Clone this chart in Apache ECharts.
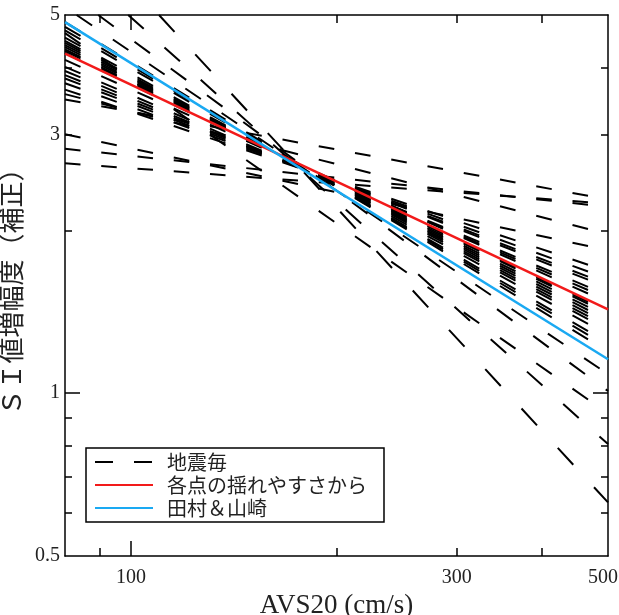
<!DOCTYPE html>
<html><head><meta charset="utf-8">
<script src="https://cdn.jsdelivr.net/npm/echarts@6/dist/echarts.min.js"></script>
<style>html,body{margin:0;padding:0;background:#fff}#c{width:619px;height:615px}</style>
</head><body><div id="c"></div>
<script>
// ---- data ----
const xStart = 80, xEnd = 500;
const yMin = 0.5, yMax = 5;
// value of each earthquake line at AVS20 = 80 and at AVS20 = 500
const quakeLeft  = [4.85, 4.755, 4.683, 4.54, 4.48, 4.44, 4.40, 4.36, 4.32, 4.29, 4.25, 4.13, 4.01, 3.94, 3.87, 3.815, 3.74, 3.64, 3.57, 3.49, 3.01, 2.83, 2.66, 4.63, 5.17, 5.55, 6.36, 7.72];
const quakeRight = [1.194, 1.219, 1.240, 1.282, 1.309, 1.327, 1.346, 1.365, 1.384, 1.404, 1.417, 1.471, 1.496, 1.518, 1.568, 1.590, 1.628, 1.679, 1.967, 2.28, 1.837, 2.21, 2.24, 0.917, 1.084, 1.009, 0.805, 0.628];
const redLine  = [4.24, 1.429];
const blueLine = [4.85, 1.155];
const xTicksMinor = [90, 200, 300, 400];
const xTicksMajor = [100];
const xLabels = [100, 300, 500];
const yTicksMinor = [0.6, 0.7, 0.8, 0.9, 2, 3, 4];
const yTicksMajor = [1];
const yLabels = [0.5, 1, 3, 5];
const seriesNames = ['地震毎', '各点の揺れやすさから', '田村＆山崎'];
const xTitle = 'AVS20 (cm/s)';
const yTitle = 'ＳＩ値増幅度（補正）';

// ---- chart ----
const chart = echarts.init(document.getElementById('c'), null, {renderer: 'canvas'});
const serif = 'Liberation Serif, Times New Roman, serif';
const lab = {fontFamily: serif, fontSize: 20, color: '#222'};
const fmt = v => String(+(+v).toPrecision(4));

function xAx(pos, ticks, len, showLine, labels, name) {
  const a = {
    type: 'log', logBase: 10, min: xStart, max: xEnd, position: pos, gridIndex: 0,
    axisLine: {show: showLine, onZero: false, lineStyle: {color: '#000', width: 1.5}},
    axisTick: {show: true, inside: true, length: len, customValues: ticks, lineStyle: {color: '#000', width: 1.5}},
    axisLabel: labels ? Object.assign({show: true, customValues: labels, margin: 12,
      formatter: v => (+v === xEnd ? '{r|' + fmt(v) + '}' : fmt(v)),
      rich: {r: {fontFamily: serif, fontSize: 20, color: '#222', padding: [0, 10, 0, 0]}}}, lab) : {show: false},
    splitLine: {show: false}, minorTick: {show: false}
  };
  if (name) {
    a.name = name; a.nameLocation = 'middle'; a.nameGap = 28;
    a.nameTextStyle = {fontFamily: serif, fontSize: 27, color: '#222'};
  }
  return a;
}
function yAx(pos, ticks, len, showLine, labels, name) {
  const a = {
    type: 'log', logBase: 10, min: yMin, max: yMax, position: pos, gridIndex: 0,
    axisLine: {show: showLine, onZero: false, lineStyle: {color: '#000', width: 1.5}},
    axisTick: {show: true, inside: true, length: len, customValues: ticks, lineStyle: {color: '#000', width: 1.5}},
    axisLabel: labels ? Object.assign({show: true, customValues: labels, margin: 5, formatter: fmt}, lab) : {show: false},
    splitLine: {show: false}, minorTick: {show: false}
  };
  if (name) {
    a.name = name; a.nameLocation = 'middle'; a.nameGap = 25; a.nameRotate = 90;
    a.nameTextStyle = {fontFamily: 'Noto Sans CJK JP', fontSize: 26, color: '#222'};
  }
  return a;
}

// each earthquake line is drawn from where it enters the frame (as the original plotter did)
function quakeData(l, r) {
  if (l > yMax) {
    const t = Math.log(yMax / l) / Math.log(r / l);
    const xs = xStart * Math.pow(xEnd / xStart, t);
    return [[xs, yMax], [xEnd, r]];
  }
  return [[xStart, l], [xEnd, r]];
}

const DASH = 15.5, GAP = 20.75;
const series = quakeLeft.map((l, i) => ({
  name: seriesNames[0], type: 'line', xAxisIndex: 0, yAxisIndex: 0,
  data: quakeData(l, quakeRight[i]),
  symbol: 'none', silent: true, z: 2,
  itemStyle: {color: '#000'},
  lineStyle: {color: '#000', width: 2, type: [DASH, GAP], cap: 'butt'}
}));
series.push({
  name: seriesNames[1], type: 'line', data: [[xStart, redLine[0]], [xEnd, redLine[1]]],
  symbol: 'none', silent: true, z: 3, itemStyle: {color: '#f21a1a'},
  lineStyle: {color: '#f21a1a', width: 2.5}
});
series.push({
  name: seriesNames[2], type: 'line', data: [[xStart, blueLine[0]], [xEnd, blueLine[1]]],
  symbol: 'none', silent: true, z: 4, itemStyle: {color: '#1aa9f2'},
  lineStyle: {color: '#1aa9f2', width: 2.5}
});

const option = {
  animation: false,
  backgroundColor: '#fff',
  grid: {left: 65, top: 15, right: 11, bottom: 59, containLabel: false, outerBoundsMode: 'none'},
  xAxis: [
    xAx('bottom', xTicksMinor, 8, true, xLabels, xTitle),
    xAx('bottom', xTicksMajor, 15, false, null),
    xAx('top', xTicksMinor, 8, true, null),
    xAx('top', xTicksMajor, 15, false, null)
  ],
  yAxis: [
    yAx('left', yTicksMinor, 7, true, yLabels, yTitle),
    yAx('left', yTicksMajor, 15, false, null),
    yAx('right', yTicksMinor, 7, true, null),
    yAx('right', yTicksMajor, 15, false, null)
  ],
  legend: {
    orient: 'vertical', left: 86, top: 448, z: 10,
    data: [{name: seriesNames[0], lineStyle: {type: [18, 21], width: 2}}, seriesNames[1], seriesNames[2]],
    itemWidth: 58, itemHeight: 14, itemGap: 3,
    itemStyle: {opacity: 0, borderWidth: 0},
    padding: [4, 17, 4, 8], borderColor: '#000', borderWidth: 1.5, backgroundColor: '#fff',
    selectedMode: false,
    textStyle: {fontFamily: 'Noto Sans CJK JP', fontSize: 20, color: '#222', padding: [0, 0, 0, 9]}
  },
  series: series
};
chart.setOption(option);

// dashes are laid out by horizontal distance, as in the original plot
const upd = series.slice(0, quakeLeft.length).map(s0 => {
  const d = s0.data;
  const p0 = chart.convertToPixel({gridIndex: 0}, d[0]);
  const p1 = chart.convertToPixel({gridIndex: 0}, d[1]);
  const s = (p1[1] - p0[1]) / (p1[0] - p0[0]);
  const k = Math.sqrt(1 + s * s);
  return {lineStyle: {type: [DASH * k, GAP * k]}};
});
chart.setOption({series: upd});
</script></body></html>
